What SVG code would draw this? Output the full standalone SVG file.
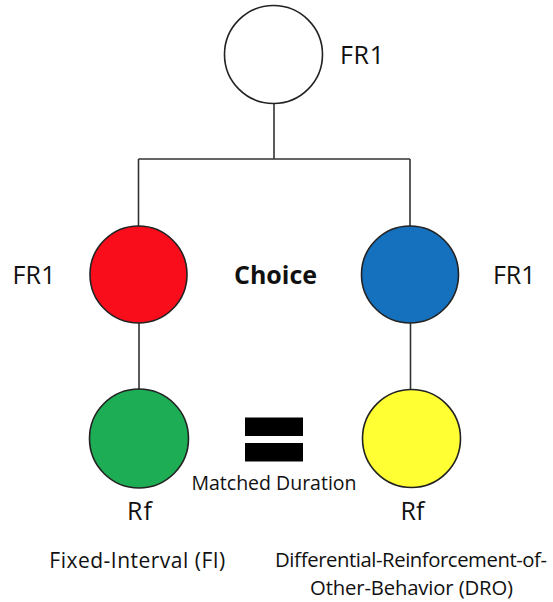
<svg xmlns="http://www.w3.org/2000/svg" width="553" height="602" viewBox="0 0 553 602">
<style>
.node{stroke:#222;stroke-width:1.6}
.conn{stroke:#333;stroke-width:1.6;fill:none}
text{font-family:"Open Sans","Liberation Sans",sans-serif;fill:#111}
.lbl{font-size:25px}
.sm{font-size:21px}
.dro{font-size:20.3px}
.md{font-size:19.5px}
.bold{font-weight:bold}
</style>
<rect width="553" height="602" fill="#fff"/>
<g id="connectors">
<path class="conn" d="M274,104 V159 M138.5,159 H410 M138.5,159 V226 M410,159 V226 M139,323 V389 M410.5,323 V389"/>
</g>
<g id="top"><circle class="node" cx="273.5" cy="54.5" r="49" fill="#fff"/><text class="lbl" x="340" y="64" textLength="44" lengthAdjust="spacing">FR1</text></g>
<g id="red"><circle class="node" cx="138.5" cy="274.5" r="48.5" fill="#F90D1B"/><text class="lbl" x="12.5" y="284" textLength="43" lengthAdjust="spacing">FR1</text></g>
<g id="choice"><text class="lbl bold" x="234" y="284" textLength="83" lengthAdjust="spacing">Choice</text></g>
<g id="blue"><circle class="node" cx="410" cy="274.5" r="48.5" fill="#1570BE"/><text class="lbl" x="493" y="284" textLength="42.5" lengthAdjust="spacing">FR1</text></g>
<g id="green"><circle class="node" cx="139" cy="438.5" r="49.5" fill="#1DAE55"/><text class="lbl" x="127" y="520" textLength="25" lengthAdjust="spacing">Rf</text><text class="sm" x="49.3" y="568" textLength="176" lengthAdjust="spacing">Fixed-Interval (FI)</text></g>
<g id="equal"><rect x="245" y="417.5" width="58" height="18.5" fill="#000"/><rect x="245" y="443" width="58" height="18.5" fill="#000"/><text class="md" x="191.5" y="490" textLength="165" lengthAdjust="spacing">Matched Duration</text></g>
<g id="yellow"><circle class="node" cx="411.5" cy="438.5" r="49" fill="#FFFF33"/><text class="lbl" x="400.5" y="520" textLength="24" lengthAdjust="spacing">Rf</text><text class="dro" x="275" y="567" textLength="272" lengthAdjust="spacing">Differential-Reinforcement-of-</text><text class="dro" x="310" y="595" textLength="203" lengthAdjust="spacing">Other-Behavior (DRO)</text></g>
</svg>
